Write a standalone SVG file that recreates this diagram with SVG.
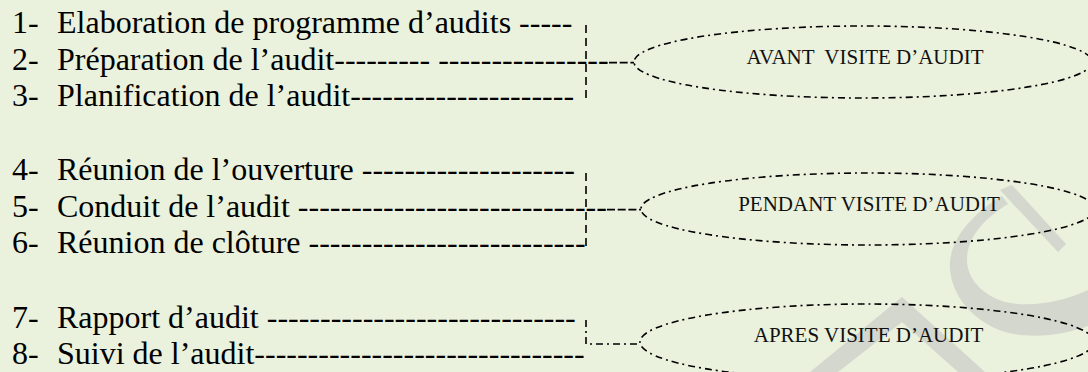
<svg xmlns="http://www.w3.org/2000/svg" width="1088" height="372" viewBox="0 0 1088 372">
<defs>
<style>
.bg{fill:#EAF1DD}
.wm{fill:#D3D7CD}
.item{font-family:"Liberation Serif","Times New Roman",serif;font-size:32px;fill:#000;white-space:pre}
.lbl{font-family:"Liberation Serif","Times New Roman",serif;font-size:21px;fill:#111;text-anchor:middle;white-space:pre}
.ell{fill:none;stroke:#000;stroke-width:1.6;stroke-dasharray:7 4 2 4}
.dash{fill:none;stroke:#000;stroke-width:1.6;stroke-dasharray:8 5}
.hdash{fill:none;stroke:#000;stroke-width:1.8;stroke-dasharray:8 2.7}
.dd{fill:none;stroke:#000;stroke-width:1.6;stroke-dasharray:7 4 2 4}
</style>
</defs>
<rect class="bg" x="0" y="0" width="1088" height="372"/>
<g id="watermark">
<path class="wm" d="M810,372 L902,297 L985,372 L958,372 L902,322 L838,372 Z"/>
<path class="wm" d="M1000,190 L1012,185 L1066,244 L1058,252 Z"/>
<path class="wm" d="M1002,196 C975,212 952,236 950,262 C948,292 972,322 1005,332 C1035,340 1065,334 1088,326 L1088,290 C1062,302 1030,308 1005,302 C982,295 966,278 967,258 C968,236 985,218 1008,204 Z"/>
</g>
<g id="item1"><text class="item" y="33"><tspan x="12">1-</tspan><tspan x="57">Elaboration de programme d’audits -----</tspan></text></g>
<g id="item2"><text class="item" y="69.7"><tspan x="12">2-</tspan><tspan x="57">Préparation de l’audit--------- ----------------</tspan></text></g>
<g id="item3"><text class="item" y="106.4"><tspan x="12">3-</tspan><tspan x="57">Planification de l’audit---------------------</tspan></text></g>
<g id="item4"><text class="item" y="180"><tspan x="12">4-</tspan><tspan x="57">Réunion de l’ouverture --------------------</tspan></text></g>
<g id="item5"><text class="item" y="216.7"><tspan x="12">5-</tspan><tspan x="57">Conduit de l’audit -----------------------------</tspan></text></g>
<g id="item6"><text class="item" y="253.4"><tspan x="12">6-</tspan><tspan x="57">Réunion de clôture --------------------------</tspan></text></g>
<g id="item7"><text class="item" y="327.5"><tspan x="12">7-</tspan><tspan x="57">Rapport d’audit -----------------------------</tspan></text></g>
<g id="item8"><text class="item" y="364.2"><tspan x="12">8-</tspan><tspan x="57">Suivi de l’audit-------------------------------</tspan></text></g>
<g id="phase-avant">
<ellipse class="ell" cx="863" cy="62" rx="229" ry="36"/>
<text class="lbl" x="865" y="64">AVANT  VISITE D’AUDIT</text>
</g>
<g id="phase-pendant">
<ellipse class="ell" cx="868" cy="209" rx="227" ry="36"/>
<text class="lbl" x="869" y="210.7">PENDANT VISITE D’AUDIT</text>
</g>
<g id="phase-apres">
<ellipse class="ell" cx="867" cy="342" rx="227" ry="38"/>
<text class="lbl" x="868.5" y="341.7">APRES VISITE D’AUDIT</text>
</g>
<g id="connectors">
<line class="dash" x1="586" y1="25" x2="586" y2="99"/>
<line class="hdash" x1="609" y1="62.7" x2="634" y2="62.7"/>
<path class="dash" d="M575,173 M586,173 V247 H582"/>
<line class="hdash" x1="607" y1="209.7" x2="641" y2="209.7"/>
<path class="dd" d="M586,320 V344 H640"/>
</g>
</svg>
